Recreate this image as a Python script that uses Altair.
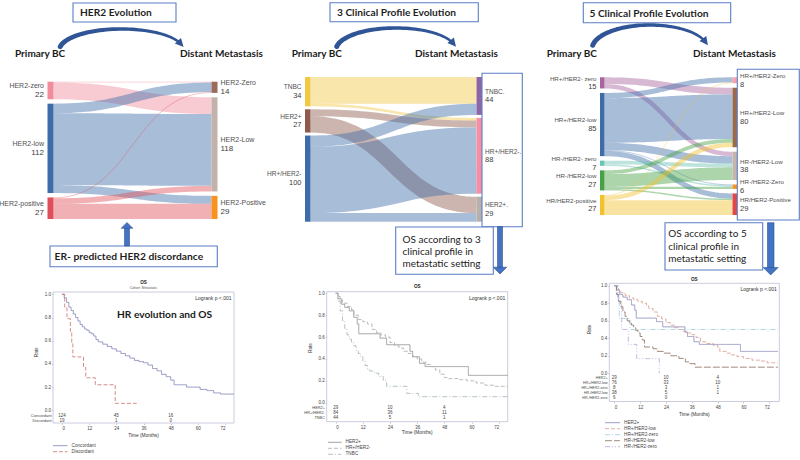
import altair as alt
import numpy as np
import pandas as pd

# ===================== DATA =====================
# --- Sankey 1: HER2 evolution (primary BC -> distant metastasis) ---
s1_src = ["HER2-zero", "HER2-low", "HER2-positive"]
s1_src_n = [22, 112, 27]
s1_dst = ["HER2-Zero", "HER2-Low", "HER2-Positive"]
s1_dst_n = [14, 118, 29]
s1_from = [0, 0, 1, 1, 1, 2, 2, 2]
s1_to = [0, 1, 0, 1, 2, 0, 1, 2]
s1_val = [1, 21, 12, 90, 10, 1, 7, 19]

# --- Sankey 2: 3 clinical profiles ---
s2_src = ["TNBC", "HER2+", "HR+/HER2-"]
s2_src_n = [34, 27, 100]
s2_dst = ["TNBC.", "HR+/HER2-.", "HER2+."]
s2_dst_n = [44, 88, 29]
s2_from = [0, 0, 1, 1, 2, 2, 2]
s2_to = [0, 1, 1, 2, 0, 1, 2]
s2_val = [31, 3, 8, 19, 13, 77, 10]

# --- Sankey 3: 5 clinical profiles ---
s3_src = ["HR+/HER2- zero", "HR+/HER2-low", "HR-/HER2- zero", "HR-/HER2-low", "HR/HER2-positive"]
s3_src_n = [15, 85, 7, 27, 27]
s3_dst = ["HR+/HER2-Zero", "HR+/HER2-Low", "HR-/HER2-Low", "HR-/HER2-Zero", "HR/HER2-Positive"]
s3_dst_n = [8, 80, 38, 6, 29]
s3_from = [0, 0, 1, 1, 1, 1, 1, 2, 2, 3, 3, 3, 3, 4, 4, 4]
s3_to = [1, 2, 0, 1, 2, 3, 4, 2, 3, 1, 2, 3, 4, 0, 1, 4]
s3_val = [9, 6, 7, 60, 10, 1, 7, 5, 2, 5, 17, 3, 2, 1, 6, 20]

# --- KM 1: HR evolution and OS ---
km1_groups = ["Concordant", "Discordant"]
km1_t = [
    [0, 1, 2, 3, 4, 5, 6, 7, 8, 9, 10, 11, 12, 13, 14, 15, 16, 18, 20, 22, 24, 26, 28, 30, 32, 34,
     36, 38, 40, 42, 44, 46, 48, 49.5, 52, 55, 58, 61, 64, 67, 70, 76],
    [0, 1.2, 2.2, 3.7, 4.3, 4.8, 9.5, 10.5, 14.7, 23.5, 33],
]
km1_s = [
    [1.0, 0.97, 0.93, 0.89, 0.86, 0.83, 0.80, 0.77, 0.74, 0.72, 0.70, 0.69, 0.67, 0.66, 0.64, 0.61,
     0.59, 0.57, 0.55, 0.53, 0.51, 0.49, 0.47, 0.45, 0.43, 0.42, 0.41, 0.39, 0.36, 0.34, 0.31, 0.29,
     0.26, 0.22, 0.22, 0.20, 0.20, 0.18, 0.17, 0.15, 0.14, 0.14],
    [1.0, 0.89, 0.79, 0.68, 0.58, 0.46, 0.37, 0.28, 0.22, 0.06, 0.06],
]
km1_risk = [[124, 45, 16], [19, 1, 0]]

# --- KM 2: 3 clinical profiles ---
km2_groups = ["HER2+", "HR+/HER2-", "TNBC"]
km2_t = [
    [0, 1, 2.5, 4, 6, 8, 9.5, 10.2, 19.6, 22.5, 32.8, 34, 37, 39.5, 58.6, 76],
    [0, 1, 2, 3, 5, 7, 8, 10, 12, 14, 16, 18, 20, 22, 24, 26, 28, 30, 32, 34, 36, 38, 40, 42, 44,
     46, 48, 50, 54, 58, 62, 66, 70, 76],
    [0, 1, 2, 3, 4, 5, 6, 7, 8, 9, 10, 11, 12, 13, 14, 15, 17, 19, 21, 22.5, 31.4, 36.5, 76],
]
km2_s = [
    [1.0, 0.95, 0.90, 0.87, 0.84, 0.78, 0.72, 0.63, 0.59, 0.53, 0.47, 0.42, 0.36, 0.33, 0.25, 0.25],
    [1.0, 0.97, 0.94, 0.91, 0.88, 0.85, 0.80, 0.76, 0.74, 0.72, 0.67, 0.64, 0.62, 0.60, 0.55, 0.52,
     0.50, 0.47, 0.45, 0.42, 0.40, 0.37, 0.35, 0.33, 0.30, 0.26, 0.23, 0.22, 0.21, 0.20, 0.18, 0.16,
     0.15, 0.15],
    [1.0, 0.93, 0.84, 0.75, 0.68, 0.62, 0.58, 0.55, 0.52, 0.48, 0.45, 0.42, 0.38, 0.34, 0.31, 0.29,
     0.27, 0.24, 0.20, 0.15, 0.085, 0.055, 0.055],
]
km2_risk = [[29, 10, 4], [84, 36, 11], [44, 5, 1]]

# --- KM 3: 5 clinical profiles ---
km3_groups = ["HER2+", "HR+/HER2-low", "HR+/HER2-zero", "HR-/HER2-low", "HR-/HER2-zero"]
km3_t = [
    [0, 1, 2.5, 4, 6, 8, 9.5, 10.2, 19.6, 22.5, 32.8, 34, 37, 39.5, 58.6, 76],
    [0, 1, 2, 3, 5, 7, 9, 11, 13, 15, 16, 18, 20, 22, 24, 26, 28, 30, 32, 34, 36, 38, 40, 43, 46,
     48, 49, 52, 54, 57, 60, 64, 68, 71, 76],
    [0, 1.5, 2.3, 7.3, 76],
    [0, 1, 2, 3, 4, 5, 6, 7, 8, 9, 10, 11, 12, 13, 14, 18, 20, 23, 26, 30, 33, 35, 37.5, 76],
    [0, 1.8, 3.4, 6.5, 10.4, 20.9],
]
km3_s = [
    [1.0, 0.95, 0.90, 0.87, 0.84, 0.78, 0.72, 0.63, 0.59, 0.53, 0.47, 0.42, 0.36, 0.33, 0.25, 0.25],
    [1.0, 0.97, 0.95, 0.92, 0.89, 0.86, 0.84, 0.82, 0.80, 0.77, 0.74, 0.70, 0.65, 0.62, 0.58, 0.55,
     0.52, 0.50, 0.48, 0.46, 0.44, 0.41, 0.36, 0.34, 0.32, 0.30, 0.25, 0.23, 0.21, 0.19, 0.17, 0.15,
     0.14, 0.12, 0.12],
    [1.0, 0.875, 0.625, 0.5, 0.5],
    [1.0, 0.90, 0.82, 0.76, 0.70, 0.65, 0.60, 0.57, 0.55, 0.52, 0.49, 0.46, 0.42, 0.38, 0.30, 0.28,
     0.25, 0.23, 0.20, 0.17, 0.13, 0.11, 0.07, 0.07],
    [1.0, 0.83, 0.5, 0.33, 0.167, 0.0],
]
km3_risk = [[29, 10, 4], [76, 33, 10], [8, 3, 1], [38, 5, 1], [6, 0, None]]
risk_times = [0, 24, 48]
x_ticks = [0, 12, 24, 36, 48, 60, 72]
y_ticks = [0.0, 0.2, 0.4, 0.6, 0.8, 1.0]

# text content
headers = ["HER2 Evolution", "3 Clinical Profile Evolution", "5 Clinical Profile Evolution"]
os_box2 = ["OS according to 3", "clinical profile in", "metastatic setting"]
os_box3 = ["OS according to 5", "clinical profile in", "metastatic setting"]

# ===================== STYLES =====================
s1_src_col = ["#f08c9c", "#3e6ca8", "#df4f59"]
s1_dst_col = ["#9b6b5b", "#c1b2aa", "#f7931e"]
s2_src_col = ["#f2c744", "#8c5b4b", "#3e6ca8"]
s2_dst_col = ["#8f65a6", "#f58fa3", "#b8b0aa"]
s3_src_col = ["#a9649f", "#3e6ca8", "#6cc2b4", "#46a147", "#f2c12e"]
s3_dst_col = ["#f7a3ad", "#9a6a4c", "#c4b5ad", "#f39426", "#e2474b"]
km1_col = ["#7a7fb5", "#c9706c"]
km1_dash = [[1, 0], [4, 2]]
km2_col = ["#8a8a8a", "#ababab", "#a4b4b4"]
km2_dash = [[1, 0], [4, 2], [5, 2, 1, 2]]
km3_col = ["#8286b8", "#d9998c", "#9ccbe0", "#8a6c5c", "#bba3dd"]
km3_dash = [[1, 0], [4, 2], [5, 2, 1, 2], [7, 2], [5, 2, 1, 2, 1, 2]]
BOX = "#5b7ec6"
ARROW = "#2f5597"
BLOCK = "#4472c4"
SANS = "Liberation Sans"
CAL = "Lato"

PXS = alt.Scale(domain=[0, 800], range=[0, 800], nice=False, zero=False)
PYS = alt.Scale(domain=[0, 460], range=[0, 460], nice=False, zero=False)

layers = []
texts = []


def T(x, y, t, s, c="#333333", font=SANS, w="normal", align="left", angle=0):
    texts.append(dict(x=x, y=y, t=str(t), s=s, c=c, font=font, w=w, align=align, angle=angle))


def rects(df, fill=True, stroke=None, sw=1.0, opacity=1.0):
    kw = dict(strokeWidth=sw, opacity=opacity)
    if stroke:
        kw["stroke"] = stroke
    m = alt.Chart(df).mark_rect(**kw)
    enc = dict(x=alt.X("x:Q", scale=PXS, axis=None), x2="x2:Q",
               y=alt.Y("y:Q", scale=PYS, axis=None), y2="y2:Q")
    if fill:
        enc["color"] = alt.Color("c:N", scale=None)
    else:
        m = alt.Chart(df).mark_rect(fillOpacity=0, **kw)
    return m.encode(**enc)


# ===================== SANKEYS =====================
def bez(x0, y0, x1, y1, n=40):
    t = np.linspace(0, 1, n)
    xm = (x0 + x1) / 2
    a, b, c, d = (1 - t) ** 3, 3 * (1 - t) ** 2 * t, 3 * (1 - t) * t ** 2, t ** 3
    return a * x0 + (b + c) * xm + d * x1, (a + b) * y0 + (c + d) * y1


def sankey(tag, src, src_n, dst, dst_n, fr, to, val, src_col, dst_col,
           xl, xr, nw, top, bottom, gap, fs_name, fs_num):
    total = sum(src_n)
    k = (bottom - top - (len(src_n) - 1) * gap) / total
    gap_r = (bottom - top - sum(dst_n) * k) / (len(dst_n) - 1)

    def col(vals, g):
        out, y = [], top
        for v in vals:
            out.append((y, y + v * k))
            y += v * k + g
        return out

    L, R = col(src_n, gap), col(dst_n, gap_r)
    flows = list(zip(fr, to, val))
    so, to_ = {}, {}
    for i in range(len(src_n)):
        off = L[i][0]
        for f in sorted([f for f in flows if f[0] == i], key=lambda f: f[1]):
            so[f] = off + f[2] * k / 2
            off += f[2] * k
    for j in range(len(dst_n)):
        off = R[j][0]
        for f in sorted([f for f in flows if f[1] == j], key=lambda f: f[0]):
            to_[f] = off + f[2] * k / 2
            off += f[2] * k
    rows = []
    for li, f in enumerate(flows):
        xs, ys = bez(xl + nw, so[f], xr, to_[f])
        for q, (xx, yy) in enumerate(zip(xs, ys)):
            rows.append(dict(x=xx, y=yy, w=max(f[2] * k, 0.7), c=src_col[f[0]], id=f"{tag}{li}", i=q))
    ldf = pd.DataFrame(rows)
    layers.append(alt.Chart(ldf).mark_line(opacity=0.45, strokeCap="butt").encode(
        x=alt.X("x:Q", scale=PXS, axis=None), y=alt.Y("y:Q", scale=PYS, axis=None),
        size=alt.Size("w:Q", scale=None), color=alt.Color("c:N", scale=None),
        detail="id:N", order="i:Q"))
    nodes = []
    for i, (a, b) in enumerate(L):
        nodes.append(dict(x=xl, x2=xl + nw, y=a, y2=b, c=src_col[i]))
        cy = (a + b) / 2
        T(xl - 3.5, cy - 4.3, src[i], fs_name, "#505050", align="right")
        T(xl - 3.5, cy + 4.5, src_n[i], fs_num, "#404040", align="right")
    for j, (a, b) in enumerate(R):
        nodes.append(dict(x=xr, x2=xr + nw, y=a, y2=b, c=dst_col[j]))
        cy = (a + b) / 2
        T(xr + nw + 3, cy - 4.3, dst[j], fs_name, "#505050")
        T(xr + nw + 3, cy + 4.5, dst_n[j], fs_num, "#404040")
    layers.append(rects(pd.DataFrame(nodes)))


sankey("a", s1_src, s1_src_n, s1_dst, s1_dst_n, s1_from, s1_to, s1_val, s1_src_col, s1_dst_col,
       47.5, 211.5, 6, 81.7, 219, 4.4, 7, 8)
sankey("b", s2_src, s2_src_n, s2_dst, s2_dst_n, s2_from, s2_to, s2_val, s2_src_col, s2_dst_col,
       305, 476.5, 5.5, 77, 221.7, 3, 6.5, 7.5)
sankey("c", s3_src, s3_src_n, s3_dst, s3_dst_n, s3_from, s3_to, s3_val, s3_src_col, s3_dst_col,
       600, 732.5, 4.5, 77.3, 215, 4.5, 6.2, 7.5)

# label frames around destination labels (middle / right sankeys)
layers.append(rects(pd.DataFrame([dict(x=482, x2=522.3, y=73.3, y2=226.7),
                                  dict(x=737.3, x2=799.3, y=69.3, y2=220)]),
                    fill=False, stroke=BOX, sw=1.1))

# ===================== ANNOTATION BOXES =====================
boxes = pd.DataFrame([
    dict(x=73, x2=176, y=3, y2=22, c="#ffffff"),
    dict(x=330, x2=478.3, y=2.7, y2=21.7, c="#ffffff"),
    dict(x=583.3, x2=730.7, y=2.7, y2=22.7, c="#ffffff"),
    dict(x=50, x2=217.3, y=246, y2=266.7, c="#ffffff"),
    dict(x=395.7, x2=493.3, y=227, y2=274.3, c="#ffffff"),
    dict(x=665, x2=762.7, y=222.7, y2=270, c="#ffffff"),
])
layers.append(rects(boxes, stroke=BOX, sw=1.1))

T(80, 13, headers[0], 10.2, "#1f1f1f", CAL, "bold")
T(337, 13, headers[1], 10.2, "#1f1f1f", CAL, "bold")
T(589.5, 13.5, headers[2], 10.2, "#1f1f1f", CAL, "bold")
for xp in [15, 291.7, 546.7]:
    T(xp, 53.5, "Primary BC", 10, "#1a1a1a", CAL, "bold")
for xp in [180, 415, 693]:
    T(xp, 53.5, "Distant Metastasis", 10, "#1a1a1a", CAL, "bold")
T(54.5, 256.5, "ER- predicted HER2 discordance", 10.3, "#1f1f1f", CAL, "bold")
T(117, 315, "HR evolution and OS", 10.2, "#1a1a1a", CAL, "bold")
for i, line in enumerate(os_box2):
    T(402.5, 239.5 + i * 12.4, line, 10, "#222222", CAL)
for i, line in enumerate(os_box3):
    T(668.3, 234.3 + i * 12.5, line, 10, "#222222", CAL)

# ===================== ARROWS =====================
arc_rows, heads = [], []
for ai, (cx, cy, a, b) in enumerate([(121.5, 50, 62, 21), (396, 50, 60, 22), (650, 49, 58, 24)]):
    th = np.linspace(np.pi - 0.16, 0.40, 50)
    for q, tv in enumerate(th):
        arc_rows.append(dict(x=cx + a * np.cos(tv), y=cy - b * np.sin(tv),
                             w=5.0 - 2.6 * q / 49, id=ai, i=q))
    tv = 0.30
    ang = float(np.degrees(np.arctan2(b * np.cos(tv), a * np.sin(tv))))
    heads.append(dict(x=cx + a * np.cos(tv), y=cy - b * np.sin(tv), ang=ang))
layers.append(alt.Chart(pd.DataFrame(arc_rows)).mark_trail(color=ARROW).encode(
    x=alt.X("x:Q", scale=PXS, axis=None), y=alt.Y("y:Q", scale=PYS, axis=None),
    size=alt.Size("w:Q", scale=None), detail="id:N", order="i:Q"))
layers.append(alt.Chart(pd.DataFrame(heads)).mark_point(
    shape="M-1,-1L1,0L-1,1Z", filled=True, color=ARROW, size=70, opacity=1).encode(
    x=alt.X("x:Q", scale=PXS, axis=None), y=alt.Y("y:Q", scale=PYS, axis=None),
    angle=alt.Angle("ang:Q", scale=None)))

shafts = pd.DataFrame([dict(x=124.5, x2=129.5, y=227.5, y2=246, c=BLOCK),
                       dict(x=497.5, x2=502.5, y=226.5, y2=268, c=BLOCK),
                       dict(x=767.5, x2=774, y=222.7, y2=268, c=BLOCK)])
layers.append(rects(shafts, stroke="#2f528f", sw=0.6))
bheads = pd.DataFrame([dict(x=127, y=225.4, sz=135, shp="up"),
                       dict(x=500, y=270.6, sz=182, shp="down"),
                       dict(x=770.7, y=271.2, sz=225, shp="down")])
for shp, path in [("up", "M-1,0.5L1,0.5L0,-0.5Z"), ("down", "M-1,-0.5L1,-0.5L0,0.5Z")]:
    layers.append(alt.Chart(bheads[bheads.shp == shp]).mark_point(
        shape=path, filled=True, color=BLOCK, stroke="#2f528f", strokeWidth=0.6, opacity=1).encode(
        x=alt.X("x:Q", scale=PXS, axis=None), y=alt.Y("y:Q", scale=PYS, axis=None),
        size=alt.Size("sz:Q", scale=None)))


# ===================== KAPLAN-MEIER PANELS =====================
def km_panel(tag, groups, tt, ss, cols, dashes, risk, g, subtitle=None, legend=None):
    fx0, fx1, fy0, fy1 = g["frame"]
    x0, x72, ytop, ybot = g["x0"], g["x72"], g["y1"], g["y0"]
    layers.append(rects(pd.DataFrame([dict(x=fx0, x2=fx1, y=fy0, y2=fy1)]),
                        fill=False, stroke="#c6c6dc", sw=0.9))
    rows = []
    for gi, gname in enumerate(groups):
        for q, (tv, sv) in enumerate(zip(tt[gi], ss[gi])):
            rows.append(dict(t=tv, s=sv, g=gname, i=q))
    xs = alt.Scale(domain=[0, 72], range=[x0, x72], nice=False, zero=False)
    ys = alt.Scale(domain=[0, 1], range=[ybot, ytop], nice=False, zero=False)
    ax_common = dict(labelFont=SANS, labelFontSize=4.5, labelColor="#444444", tickSize=1.5,
                     tickColor="#999999", tickWidth=0.5, labelPadding=1, domain=False, grid=False,
                     title=None)
    layers.append(alt.Chart(pd.DataFrame(rows)).mark_line(interpolate="step-after", strokeWidth=0.8).encode(
        x=alt.X("t:Q", scale=xs, axis=alt.Axis(orient="bottom", offset=fy1 - 460, values=x_ticks,
                                                 format="d", **ax_common)),
        y=alt.Y("s:Q", scale=ys, axis=alt.Axis(orient="left", offset=-fx0, values=y_ticks,
                                                 format=".1f", **ax_common)),
        color=alt.Color("g:N", scale=alt.Scale(domain=groups, range=cols), legend=None),
        strokeDash=alt.StrokeDash("g:N", scale=alt.Scale(domain=groups, range=dashes), legend=None),
        detail="g:N", order="i:Q"))
    # numbers at risk
    rk = []
    for gi, gname in enumerate(groups):
        yrow = g["risk_y"][gi]
        T(g["risk_lab_x"], yrow, gname, g["risk_fs"], "#444444", align="right")
        for tv, nv in zip(risk_times, risk[gi]):
            if nv is not None:
                rk.append(dict(t=tv, y=yrow, n=str(nv)))
    layers.append(alt.Chart(pd.DataFrame(rk)).mark_text(
        font=SANS, fontSize=4.5, color="#444444", baseline="middle", align="center").encode(
        x=alt.X("t:Q", scale=xs, axis=None), y=alt.Y("y:Q", scale=PYS, axis=None), text="n:N"))
    # titles
    cxm = (fx0 + fx1) / 2
    T(cxm, g["title_y"], "OS", 4.6, "#222222", w="bold", align="center")
    if subtitle:
        T(cxm, g["title_y"] + 5, subtitle, 3.4, "#555555", align="center")
    T(fx1 - 2.5, fy0 + 6, "Logrank p <.001", 5, "#333333", align="right")
    T(g["rate_x"], (ytop + ybot) / 2, "Rate", 4.6, "#333333", align="center", angle=270)
    T(cxm, g["time_y"], "Time (Months)", 4.8, "#333333", align="center")
    # legend
    lx0, lx1 = g["leg_x"]
    lrows = []
    for gi, gname in enumerate(groups):
        yl = g["leg_y0"] + gi * g["leg_dy"]
        lrows += [dict(x=lx0, y=yl, g=gname, i=0), dict(x=lx1, y=yl, g=gname, i=1)]
        T(lx1 + 4, yl, gname, 4.7, "#444444")
    layers.append(alt.Chart(pd.DataFrame(lrows)).mark_line(strokeWidth=0.8).encode(
        x=alt.X("x:Q", scale=PXS, axis=None), y=alt.Y("y:Q", scale=PYS, axis=None),
        color=alt.Color("g:N", scale=alt.Scale(domain=groups, range=cols), legend=None),
        strokeDash=alt.StrokeDash("g:N", scale=alt.Scale(domain=groups, range=dashes), legend=None),
        detail="g:N", order="i:Q"))


G1 = dict(frame=(53, 234, 292, 423), x0=62, x72=225, y1=294.3, y0=410.3,
          risk_y=[415.7, 420.7], risk_lab_x=51.5, risk_fs=4.0, title_y=283, rate_x=37,
          time_y=436, leg_x=(53, 67.5), leg_y0=445.7, leg_dy=6)
G2 = dict(frame=(326.7, 507.7, 291.7, 421.7), x0=335.7, x72=498.7, y1=293.3, y0=402.7,
          risk_y=[407.5, 412.7, 418], risk_lab_x=325, risk_fs=3.9, title_y=286.7, rate_x=310.7,
          time_y=433.3, leg_x=(328, 341.5), leg_y0=442.3, leg_dy=6)
G3 = dict(frame=(609.3, 779.3, 283.3, 401.5), x0=614.3, x72=769.3, y1=285.7, y0=373.3,
          risk_y=[377.7, 382.7, 387.6, 392.7, 397.7], risk_lab_x=607.5, risk_fs=3.6, title_y=279.5,
          rate_x=590, time_y=415, leg_x=(605, 620), leg_y0=422.7, leg_dy=6)

km_panel("k1", km1_groups, km1_t, km1_s, km1_col, km1_dash, km1_risk, G1, subtitle="Cohort: Metastatic")
km_panel("k2", km2_groups, km2_t, km2_s, km2_col, km2_dash, km2_risk, G2)
km_panel("k3", km3_groups, km3_t, km3_s, km3_col, km3_dash, km3_risk, G3)

# ===================== TEXT LAYERS =====================
tdf = pd.DataFrame(texts)
for (font, w, align, angle), sub in tdf.groupby(["font", "w", "align", "angle"]):
    layers.append(alt.Chart(sub.reset_index(drop=True)).mark_text(
        font=font, fontWeight=w, align=align, baseline="middle", angle=float(angle)).encode(
        x=alt.X("x:Q", scale=PXS, axis=None), y=alt.Y("y:Q", scale=PYS, axis=None),
        text="t:N", size=alt.Size("s:Q", scale=None), color=alt.Color("c:N", scale=None)))

chart = alt.layer(*layers).resolve_scale(
    x="independent", y="independent", color="independent", size="independent",
    strokeDash="independent", angle="independent"
).properties(
    width=800, height=460, autosize=alt.AutoSizeParams(type="none"), padding=0, background="white"
).configure_view(stroke=None)

chart.save("out.html", embed_options={"renderer": "svg", "actions": False})
